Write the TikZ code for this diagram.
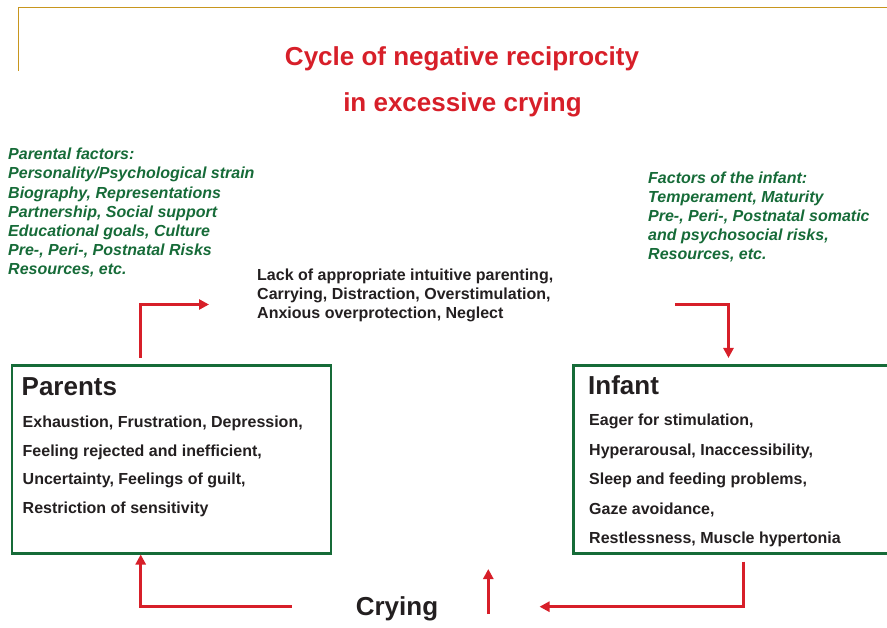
\documentclass[tikz,border=0pt]{standalone}
\usepackage{fontspec}
\setmainfont{Liberation Sans}
\usetikzlibrary{arrows.meta}
\definecolor{cred}{HTML}{D71F29}
\definecolor{cgreen}{HTML}{166B38}
\definecolor{cgold}{HTML}{C8961E}
\definecolor{ctext}{HTML}{231F20}
\begin{document}
\begin{tikzpicture}[x=1pt,y=-1pt,
  lbl/.style={anchor=base west,inner sep=0,font=\fontsize{16}{19}\selectfont\bfseries,text=ctext,align=left},
  factor/.style={lbl,font=\fontsize{16}{19.1}\selectfont\bfseries\itshape,text=cgreen},
  big/.style={inner sep=0,font=\fontsize{26}{30}\selectfont\bfseries,text=ctext},
  box/.style={draw=cgreen,line width=2.8pt,inner sep=0},
  flow/.style={draw=cred,line width=2.8pt,-{Triangle[length=10pt,width=10pt]}},
  frame/.style={draw=cgold,line width=1.6pt}
]
\useasboundingbox (0,0) rectangle (887,628);

% gold frame
\coordinate (fa) at (18.3,71);
\coordinate (fb) at (18.3,7.7);
\coordinate (fc) at (892,7.7);
\draw[frame] (fa) -- (fb) -- (fc);

% title
\node[big,text=cred,anchor=base] (title1) at (462,66) {Cycle of negative reciprocity};
\node[big,text=cred,anchor=base] (title2) at (462.5,112) {in excessive crying};

% factors (base anchor = baseline of the last line)
\node[factor] (pfac) at (8,274.5) {Parental factors:\\Personality/Psychological strain\\Biography, Representations\\Partnership, Social support\\Educational goals, Culture\\Pre-, Peri-, Postnatal Risks\\Resources, etc.};
\node[factor] (ifac) at (648,259.5) {Factors of the infant:\\Temperament, Maturity\\Pre-, Peri-, Postnatal somatic\\and psychosocial risks,\\Resources, etc.};

% middle
\node[lbl] (lack) at (257,318.7) {Lack of appropriate intuitive parenting,\\Carrying, Distraction, Overstimulation,\\Anxious overprotection, Neglect};

% boxes
\node[box,minimum width=319pt,minimum height=188pt] (parents) at (171.5,459.2) {};
\node[box,minimum width=325pt,minimum height=188pt] (infant) at (736,459.2) {};

\node[big,anchor=base west] (ptitle) at (21.5,396) {Parents};
\node[lbl] (p1) at (22.5,428) {Exhaustion, Frustration, Depression,};
\node[lbl] (p2) at (22.5,456.5) {Feeling rejected and inefficient,};
\node[lbl] (p3) at (22.5,485) {Uncertainty, Feelings of guilt,};
\node[lbl] (p4) at (22.5,513.5) {Restriction of sensitivity};

\node[big,anchor=base west] (ititle) at (588,395) {Infant};
\node[lbl] (i1) at (589,426) {Eager for stimulation,};
\node[lbl] (i2) at (589,455.3) {Hyperarousal, Inaccessibility,};
\node[lbl] (i3) at (589,484.6) {Sleep and feeding problems,};
\node[lbl] (i4) at (589,514) {Gaze avoidance,};
\node[lbl] (i5) at (589,543.3) {Restlessness, Muscle hypertonia};

\node[big,anchor=base] (crying) at (397,615) {Crying};

% arrows
\coordinate (a1s) at (140.7,357.7);
\coordinate (a1e) at (209,304.5);
\draw[flow] (a1s) |- (a1e);

\coordinate (a2s) at (675.3,304.5);
\coordinate (a2e) at (728.5,358);
\draw[flow] (a2s) -| (a2e);

\coordinate (a3s) at (743.3,561.7);
\coordinate (a3e) at (539.5,606.7);
\draw[flow] (a3s) |- (a3e);

\coordinate (a4s) at (488.3,614);
\coordinate (a4e) at (488.3,569);
\draw[flow] (a4s) -- (a4e);

\coordinate (a5s) at (291.7,606.7);
\coordinate (a5e) at (140.7,554.5);
\draw[flow] (a5s) -| (a5e);
\end{tikzpicture}
\end{document}
